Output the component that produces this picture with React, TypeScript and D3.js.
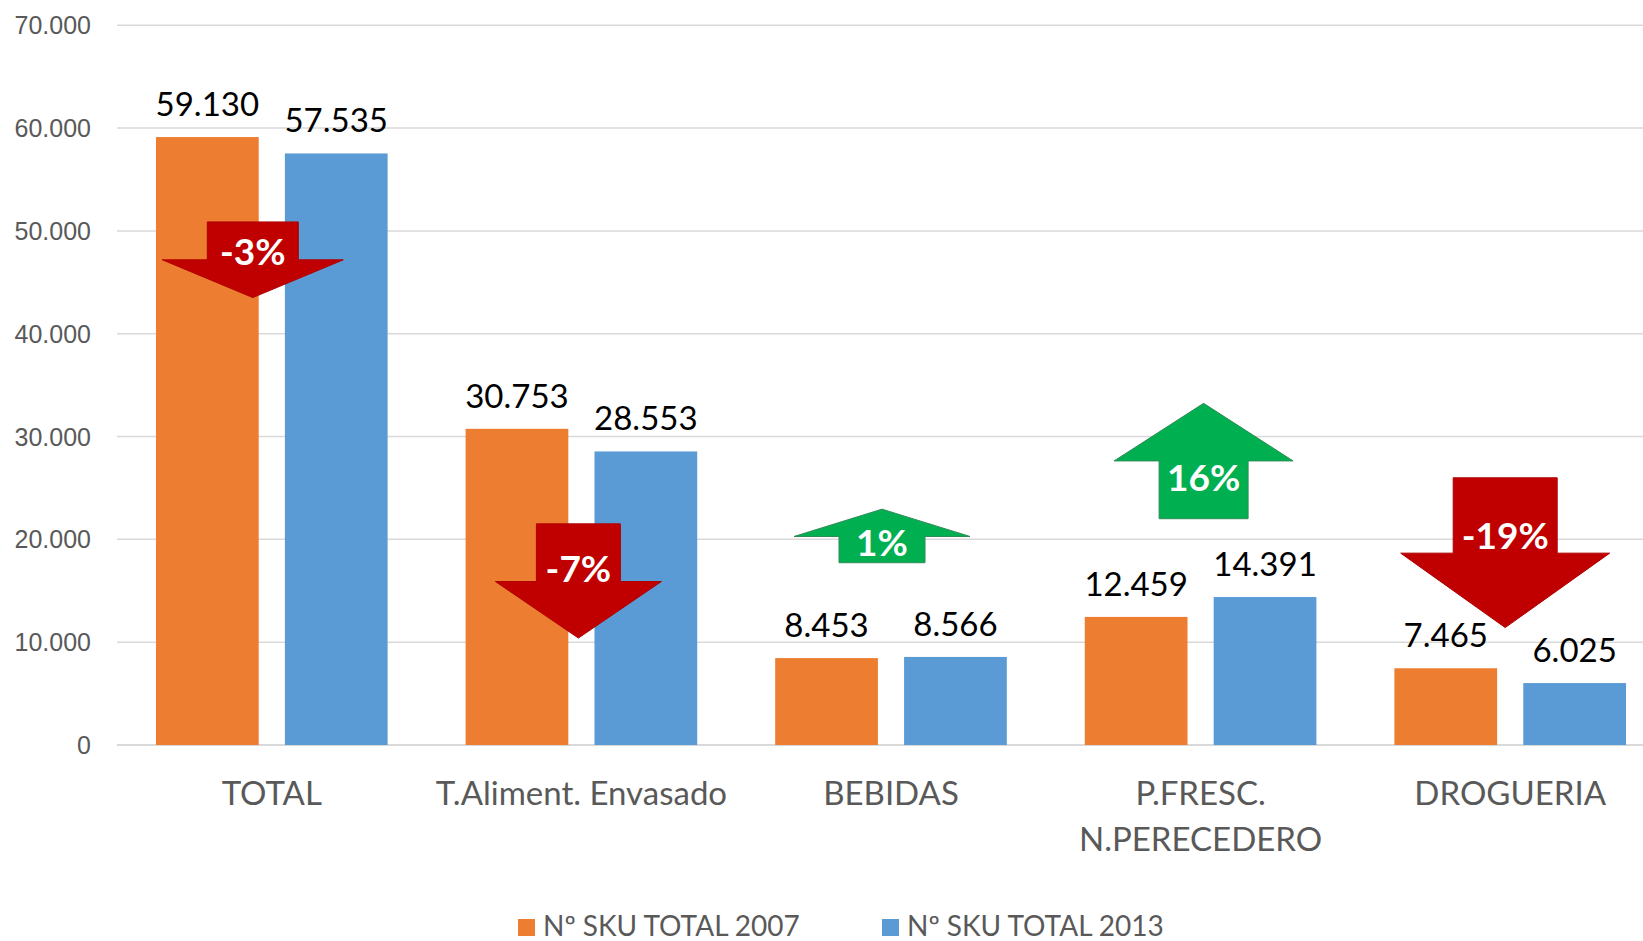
import React from "react";
import * as d3 from "d3";

const categories = ["TOTAL", "T.Aliment. Envasado", "BEBIDAS", "P.FRESC. N.PERECEDERO", "DROGUERIA"];
const categoryLines = [["TOTAL"], ["T.Aliment. Envasado"], ["BEBIDAS"], ["P.FRESC.", "N.PERECEDERO"], ["DROGUERIA"]];
const seriesNames = ["Nº SKU TOTAL 2007", "Nº SKU TOTAL 2013"];
const values2007 = [59130, 30753, 8453, 12459, 7465];
const values2013 = [57535, 28553, 8566, 14391, 6025];
const yTicks = [0, 10000, 20000, 30000, 40000, 50000, 60000, 70000];
const changeLabels = ["-3%", "-7%", "1%", "16%", "-19%"];

// Arrow annotations (value-unit anchors per category)
const arrowDir = ["down", "down", "up", "up", "down"];
const arrowBase = [50875, 21510, 17730, 22010, 25990];
const arrowShoulder = [47190, 15900, 20280, 27630, 18660];
const arrowTip = [43520, 10400, 22940, 33230, 11420];
const arrowTextAt = [48010, 17120, 19670, 25990, 20390];

const W = 1643;
const H = 941;
const colors = ["#ED7D31", "#5B9BD5"];

const loc = d3.formatLocale({ decimal: ",", thousands: ".", grouping: [3], currency: ["", "€"] });
const fmt = loc.format(",d");

export default function App() {
  const left = 117;
  const step = 309.6;
  const x = d3.scaleBand<string>().domain(categories).range([left, left + step * categories.length]).padding(0);
  const x1 = d3.scaleBand<string>().domain(seriesNames).range([0, x.bandwidth()]).paddingInner(0.203).paddingOuter(0.3025);
  const y = d3.scaleLinear().domain([0, 70000]).range([745, 25.3]);
  const series = [values2007, values2013];

  const arrowTipDx = [-19, -3, -9, 3, -5];
  const arrowShaftW = [91, 84, 86, 89, 104];
  const arrowHeadW = [181, 166, 176, 179, 209];

  return (
    <svg width={W} height={H} style={{ position: "absolute", left: 0, top: 0, background: "#fff" }}>
      <rect x={0} y={0} width={W} height={H} fill="#fff" />
      {yTicks.map((t) => (
        <g key={t}>
          <line x1={left} x2={W} y1={y(t)} y2={y(t)} stroke="#d9d9d9" strokeWidth={t === 0 ? 2 : 1.5} />
          <text x={91} y={y(t)} dy="0.36em" textAnchor="end" fontFamily="'Liberation Sans', Arial, sans-serif" fontSize={25} fill="#595959">
            {fmt(t)}
          </text>
        </g>
      ))}
      {categories.map((c, i) => (
        <g key={c} transform={`translate(${x(c)},0)`}>
          {series.map((vals, s) => {
            const bx = x1(seriesNames[s])!;
            const bw = x1.bandwidth();
            return (
              <g key={s}>
                <rect x={bx} y={y(vals[i])} width={bw} height={y(0) - y(vals[i])} fill={colors[s]} />
                <text x={bx + bw / 2} y={y(vals[i]) - 21} textAnchor="middle" fontFamily="Lato, sans-serif" fontSize={33} fill="#000">
                  {fmt(vals[i])}
                </text>
              </g>
            );
          })}
          {categoryLines[i].map((ln, k) => (
            <text key={k} x={x.bandwidth() / 2} y={805 + k * 46} textAnchor="middle" fontFamily="Lato, sans-serif" fontSize={33} fill="#595959">
              {ln}
            </text>
          ))}
        </g>
      ))}
      {categories.map((c, i) => {
        const cx = x(c)! + x.bandwidth() / 2 + arrowTipDx[i];
        const sw = arrowShaftW[i] / 2;
        const hw = arrowHeadW[i] / 2;
        const yb = y(arrowBase[i]);
        const ys = y(arrowShoulder[i]);
        const yt = y(arrowTip[i]);
        const pts = [
          [cx - sw, yb], [cx + sw, yb], [cx + sw, ys], [cx + hw, ys], [cx, yt], [cx - hw, ys], [cx - sw, ys],
        ];
        const up = arrowDir[i] === "up";
        return (
          <g key={"a" + i}>
            <polygon points={pts.map((p) => p.join(",")).join(" ")} fill={up ? "#00B050" : "#C00000"} stroke={up ? "#2E8B57" : "#B00000"} strokeWidth={1} />
            <text x={cx} y={y(arrowTextAt[i])} dy="0.36em" textAnchor="middle" fontFamily="Lato, sans-serif" fontWeight="bold" fontSize={37} fill="#fff">
              {changeLabels[i]}
            </text>
          </g>
        );
      })}
      {seriesNames.map((s, k) => {
        const lx = [518, 882][k];
        return (
          <g key={s}>
            <rect x={lx} y={919} width={17} height={17} fill={colors[k]} />
            <text x={lx + 25} y={936} fontFamily="Lato, sans-serif" fontSize={28} fill="#595959">
              {s}
            </text>
          </g>
        );
      })}
    </svg>
  );
}
